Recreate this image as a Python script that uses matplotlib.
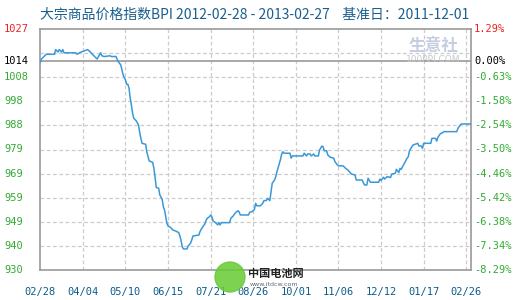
import numpy as np
import matplotlib
matplotlib.use("Agg")
import matplotlib.pyplot as plt
import matplotlib.transforms as mtrans
from matplotlib.patches import Ellipse

# BPI index, day offsets from 2012-02-28
days = [0, 1, 5, 12, 13, 15, 16, 18, 19, 20, 30, 31, 33, 40, 43, 44, 48, 51, 52, 54,
        59, 60, 64, 65, 66, 68, 69, 70, 72, 73, 74, 75, 76, 77, 78, 79, 81, 83, 84, 85,
        86, 89, 90, 92, 95, 96, 97, 98, 100, 101, 103, 104, 105, 106, 107, 108, 110, 112, 114, 117,
        118, 119, 120, 121, 124, 125, 127, 128, 129, 134, 135, 136, 137, 139, 140, 141, 143, 144, 145, 146,
        148, 150, 151, 152, 153, 160, 161, 163, 165, 167, 168, 169, 176, 177, 179, 181, 182, 183, 186, 188,
        189, 191, 192, 194, 195, 196, 198, 199, 200, 202, 203, 204, 205, 206, 211, 212, 213, 222, 223, 225,
        226, 228, 229, 231, 232, 235, 236, 238, 239, 240, 242, 243, 245, 248, 249, 251, 252, 256, 258, 260,
        262, 263, 266, 267, 272, 273, 274, 276, 277, 279, 286, 287, 288, 290, 291, 293, 294, 296, 297, 300,
        301, 303, 304, 305, 307, 308, 310, 311, 312, 314, 315, 319, 320, 322, 323, 324, 330, 331, 334, 335,
        336, 338, 340, 341, 352, 353, 355, 356, 364]
bpi = [1013.7, 1015.0, 1016.9, 1016.9, 1018.8, 1017.8, 1018.8, 1017.8, 1018.8, 1017.5,
       1017.5, 1016.9, 1017.5, 1018.8, 1017.5, 1016.9, 1015.0, 1017.5, 1016.3, 1016.0,
       1016.3, 1016.0, 1016.0, 1014.8, 1013.9, 1012.6, 1010.6, 1008.6, 1006.5, 1004.8,
       1004.8, 1003.2, 999.1, 996.4, 993.1, 991.1, 990.1, 988.4, 985.4, 983.0,
       981.0, 980.6, 977.6, 973.9, 973.3, 970.9, 967.3, 963.2, 962.9, 960.2,
       958.4, 955.4, 954.1, 951.4, 948.7, 947.6, 947.1, 946.0, 945.7, 945.0,
       943.6, 941.7, 939.3, 938.4, 938.4, 939.6, 940.7, 942.0, 943.6, 944.0,
       945.4, 946.3, 947.1, 948.4, 949.8, 950.7, 951.4, 952.1, 951.4, 949.7,
       949.0, 948.1, 949.0, 948.1, 949.0, 949.0, 950.7, 951.7, 953.0, 953.8,
       953.4, 952.1, 952.1, 953.2, 953.4, 954.4, 956.8, 955.8, 955.8, 956.8,
       957.9, 957.9, 958.8, 957.9, 961.5, 964.9, 966.2, 967.5, 969.5, 972.9,
       974.5, 976.7, 977.6, 977.0, 977.0, 975.0, 975.9, 975.9, 977.0, 975.9,
       976.7, 976.7, 975.9, 976.7, 975.9, 975.9, 978.3, 979.9, 979.6, 978.0,
       978.0, 976.3, 975.4, 975.0, 973.6, 972.3, 971.9, 971.9, 970.9, 970.2,
       969.1, 968.6, 968.2, 966.2, 966.2, 965.1, 964.2, 964.2, 966.9, 965.3,
       965.3, 966.6, 966.0, 967.3, 966.6, 967.5, 967.5, 967.2, 968.6, 968.9,
       970.5, 969.2, 970.9, 970.5, 972.3, 973.2, 975.0, 975.6, 978.0, 979.6,
       980.3, 981.0, 979.9, 979.9, 979.0, 981.0, 981.0, 983.0, 983.0, 981.9,
       983.4, 984.8, 985.3, 985.7, 985.7, 987.1, 988.4, 988.8, 988.8]

base = 1014
y_top = 1027.1
y_bottom = 929.9
left_labels = ["1027", "1014", "1008", "998", "988", "979", "969", "959", "949", "940", "930"]
right_labels = ["1.29%", "0.00%", "-0.63%", "-1.58%", "-2.54%", "-3.50%", "-4.46%",
                "-5.42%", "-6.38%", "-7.34%", "-8.29%"]
x_ticks = [0, 36, 72, 108, 144, 180, 216, 252, 288, 324, 360]
x_labels = ["02/28", "04/04", "05/10", "06/15", "07/21", "08/26", "10/01",
            "11/06", "12/12", "01/17", "02/26"]
title = "大宗商品价格指数BPI 2012-02-28 - 2013-02-27    基准日：2011-12-01"

fig = plt.figure(figsize=(5.2, 3.0), dpi=100)
ax = fig.add_axes([40.3 / 520, 30 / 300, 430.7 / 520, 241 / 300])
ax.set_xlim(0, 364)
ax.set_ylim(y_bottom, y_top)

grid_y = np.linspace(y_top, y_bottom, 11)
for gy in grid_y[1:-1]:
    ax.axhline(gy, color="#cccccc", lw=0.9, ls=(0, (3, 2)), zorder=1)
for gx in x_ticks[1:]:
    ax.axvline(gx, color="#cccccc", lw=0.9, ls=(0, (3, 2)), zorder=1)
ax.axhline(base, color="#999999", lw=1.2, zorder=2)

# watermark
fig.text(433 / 520, 1 - 46 / 300, "生意社", ha="center", va="center",
         fontsize=12, color="#c5cde0", family=["Noto Sans CJK SC"], fontweight="bold")
fig.text(433 / 520, 1 - 60 / 300, "100PPI.COM", ha="center", va="center",
         fontsize=6.5, color="#c8c8c8")

ax.plot(days, bpi, color="#3a98d8", lw=1.1, zorder=3)

for s in ax.spines.values():
    s.set_color("#999999")
    s.set_linewidth(1.2)

ax.set_yticks([])
ax.set_xticks(x_ticks)
ax.set_xticklabels(x_labels, family="DejaVu Sans Mono", fontsize=7.5, color="#0b5c8c")
ax.tick_params(axis="x", length=0, pad=12)

# y labels on both sides
label_y = [grid_y[0], base] + list(grid_y[2:])
colors = ["#ee2222", "#000000"] + ["#33aa33"] * 9
tl = mtrans.blended_transform_factory(fig.transFigure, ax.transData)
for yv, ll, rl, c in zip(label_y, left_labels, right_labels, colors):
    fig.text(4 / 520, yv, ll, transform=tl, ha="left", va="center",
             family="DejaVu Sans Mono", fontsize=7.5, color=c)
    fig.text(474 / 520, yv, rl, transform=tl, ha="left", va="center",
             family="DejaVu Sans Mono", fontsize=7.5, color=c)

fig.text(40 / 520, 1 - 15 / 300, title, ha="left", va="center", fontsize=10,
         color="#1a5f8e", family=["Noto Sans CJK SC", "DejaVu Sans"])

# bottom logo
fig.patches.append(Ellipse((230 / 520, 1 - 277 / 300), 30 / 520, 30 / 300,
                           transform=fig.transFigure, color="#66cc33", alpha=0.85, zorder=5))
fig.text(248 / 520, 1 - 273 / 300, "中国电池网", ha="left", va="center", fontsize=8,
         color="#222222", family=["Noto Sans CJK SC"], fontweight="bold", zorder=6)
fig.text(250 / 520, 1 - 284 / 300, "www.itdcw.com", ha="left", va="center", fontsize=4.5,
         color="#666666", zorder=6)

fig.savefig("out.png", dpi=100)
